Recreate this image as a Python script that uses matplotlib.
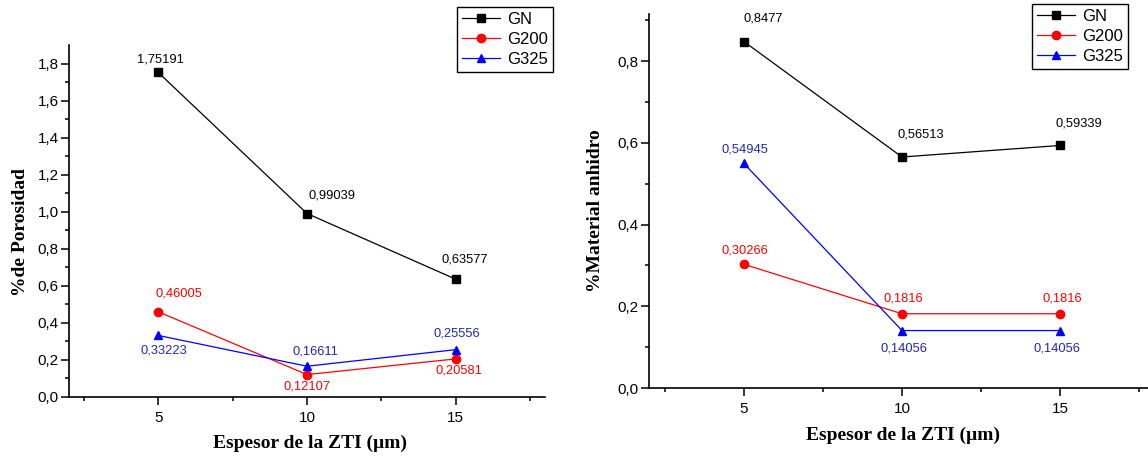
import matplotlib
matplotlib.use("Agg")
import matplotlib.pyplot as plt
from matplotlib.ticker import FixedLocator, FuncFormatter

plt.rcParams['font.family'] = ['Liberation Sans', 'DejaVu Sans']

thickness = [5, 10, 15]
series_names = ["GN", "G200", "G325"]

poro_gn = [1.75191, 0.99039, 0.63577]
poro_g200 = [0.46005, 0.12107, 0.20581]
poro_g325 = [0.33223, 0.16611, 0.25556]

anh_gn = [0.8477, 0.56513, 0.59339]
anh_g200 = [0.30266, 0.1816, 0.1816]
anh_g325 = [0.54945, 0.14056, 0.14056]

colors = ["black", "#ff0000", "#0000ff"]
text_colors = ["black", "#ff0000", "#2323c0"]
markers = ["s", "o", "^"]

# label offsets in pixels (dx, dy), one per point
poro_offsets = [
    [(2, 13), (25, 18), (9, 20)],
    [(21, 18), (0, -12), (3, -12)],
    [(6, -15), (8, 15), (1, 16)],
]
anh_offsets = [
    [(19, 23), (19, 23), (19, 22)],
    [(1, 14), (1, 15), (2, 15)],
    [(1, 14), (2, -18), (-3, -18)],
]

W, H = 1148, 459


def comma(v, pos=None):
    return f"{v:.1f}".replace('.', ',')


def setup_axes(ax, ymax, yticks, yminor, ylabel):
    ax.set_xlim(2, 18)
    ax.set_ylim(0, ymax)
    ax.spines['top'].set_visible(False)
    ax.spines['right'].set_visible(False)
    for s in ['left', 'bottom']:
        ax.spines[s].set_linewidth(1.2)
    ax.xaxis.set_major_locator(FixedLocator(thickness))
    ax.xaxis.set_minor_locator(FixedLocator([2.5, 7.5, 12.5, 17.5]))
    ax.yaxis.set_major_locator(FixedLocator(yticks))
    ax.yaxis.set_minor_locator(FixedLocator(yminor))
    ax.yaxis.set_major_formatter(FuncFormatter(comma))
    ax.tick_params(which='major', direction='out', length=6, width=1.1, labelsize=11)
    ax.tick_params(which='minor', direction='out', length=3, width=1.1)
    ax.tick_params(axis='y', pad=1.5)
    ax.tick_params(axis='x', pad=4)
    ax.set_ylabel(ylabel, family='Liberation Serif', fontweight='bold', fontsize=14)
    ax.set_xlabel("Espesor de la ZTI (µm)", family='Liberation Serif',
                  fontweight='bold', fontsize=14)


def draw_series(ax, data, offsets):
    for vals, name, c, tc, m, offs in zip(data, series_names, colors, text_colors,
                                          markers, offsets):
        ax.plot(thickness, vals, color=c, marker=m, markersize=6, linewidth=0.9,
                label=name, clip_on=False)
        for x, v, (dx, dy) in zip(thickness, vals, offs):
            ax.annotate(str(v).replace('.', ','), (x, v), xytext=(dx, dy),
                        textcoords='offset pixels', ha='center', va='center',
                        color=tc, fontsize=9.3)


fig = plt.figure(figsize=(W / 100, H / 100), dpi=100)

ax1 = fig.add_axes([69 / W, 1 - 397 / H, (545 - 69) / W, (397 - 45) / H])
setup_axes(ax1, 1.9, [0, 0.2, 0.4, 0.6, 0.8, 1.0, 1.2, 1.4, 1.6, 1.8],
           [0.1, 0.3, 0.5, 0.7, 0.9, 1.1, 1.3, 1.5, 1.7], "%de Porosidad")
draw_series(ax1, [poro_gn, poro_g200, poro_g325], poro_offsets)
ax1.xaxis.set_label_coords((310 - 69) / (545 - 69), -(435 - 397) / (397 - 45))
ax1.yaxis.set_label_coords(-(69 - 29) / (545 - 69), (397 - 232) / (397 - 45))

ax2 = fig.add_axes([649 / W, 1 - 388 / H, (1155 - 649) / W, (388 - 14) / H])
setup_axes(ax2, 0.915, [0, 0.2, 0.4, 0.6, 0.8],
           [0.1, 0.3, 0.5, 0.7, 0.9], "%Material anhidro")
draw_series(ax2, [anh_gn, anh_g200, anh_g325], anh_offsets)
ax2.xaxis.set_label_coords((903 - 649) / (1155 - 649), -(427 - 388) / (388 - 14))
ax2.yaxis.set_label_coords(-(649 - 604) / (1155 - 649), (388 - 211) / (388 - 14))

for ax, anchor in [(ax1, (553 / W, 1 - 7 / H)), (ax2, (1128 / W, 1 - 4 / H))]:
    leg = ax.legend(loc='upper right', bbox_to_anchor=anchor,
                    bbox_transform=fig.transFigure, borderaxespad=0,
                    fancybox=False, edgecolor='black', fontsize=12,
                    handlelength=2.3, handletextpad=0.4, borderpad=0.3,
                    labelspacing=0.3, framealpha=1)
    leg.get_frame().set_linewidth(1.0)

fig.savefig("out.png", dpi=100)
